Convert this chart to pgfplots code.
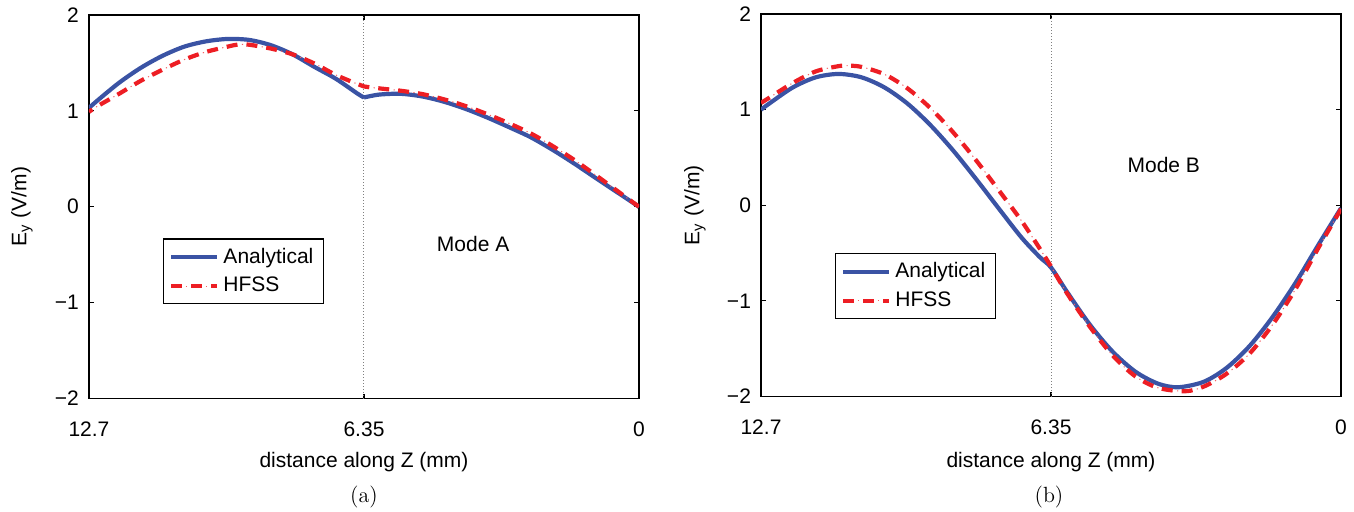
\documentclass[border=0pt]{standalone}
\usepackage{fontspec}
\usepackage{pgfplots}
\pgfplotsset{compat=1.18}
\newfontfamily\hv{Liberation Sans}
\definecolor{anblue}{RGB}{58,83,164}
\definecolor{hfred}{RGB}{237,30,36}

\pgfplotstableread{
z v
0 0
0.5 0.15
1.0 0.30
1.5 0.452
2.0 0.595
2.5 0.725
3.0 0.83
3.5 0.93
4.0 1.02
4.5 1.095
5.0 1.15
5.5 1.178
6.0 1.17
6.35 1.14
}\anAr

\pgfplotstableread{
z v
6.35 1.14
6.5 1.18
7.0 1.335
7.5 1.46
8.0 1.59
8.5 1.685
9.0 1.74
9.5 1.75
10.0 1.725
10.5 1.67
11.0 1.575
11.5 1.45
12.0 1.295
12.5 1.11
12.7 1.03
}\anAl

\pgfplotstableread{
z v
0 0
0.5 0.165
1.0 0.33
1.5 0.49
2.0 0.635
2.5 0.765
3.0 0.87
3.5 0.965
4.0 1.05
4.5 1.12
5.0 1.175
5.5 1.21
6.0 1.235
6.35 1.255
6.5 1.28
7.0 1.375
7.5 1.495
8.0 1.59
8.5 1.65
9.0 1.69
9.25 1.693
9.5 1.67
10.0 1.615
10.5 1.535
11.0 1.43
11.5 1.315
12.0 1.18
12.5 1.05
12.7 0.99
}\hfA

\pgfplotstableread{
z v
0 -0.03
0.5 -0.418
1.0 -0.815
1.5 -1.17
2.0 -1.471
2.5 -1.699
3.0 -1.845
3.56 -1.903
4.0 -1.867
4.5 -1.741
5.0 -1.531
5.5 -1.248
6.0 -0.905
6.35 -0.65
6.6 -0.54
7.0 -0.335
7.5 -0.03
8.0 0.28
8.5 0.577
9.0 0.843
9.5 1.066
10.0 1.233
10.5 1.338
11.0 1.373
11.5 1.338
12.0 1.233
12.5 1.07
12.7 1.00
}\anB

\pgfplotstableread{
z v
0 -0.04
0.5 -0.45
1.0 -0.88
1.5 -1.25
2.0 -1.55
2.5 -1.76
3.0 -1.895
3.41 -1.945
4.0 -1.91
4.5 -1.79
5.0 -1.57
5.5 -1.27
6.0 -0.92
6.35 -0.64
6.6 -0.45
7.0 -0.16
7.5 0.161
8.0 0.476
8.5 0.767
9.0 1.02
9.5 1.225
10.0 1.37
10.5 1.447
10.8 1.46
11.0 1.455
11.5 1.40
12.0 1.28
12.5 1.13
12.7 1.07
}\hfB

\pgfplotsset{
 mystyle/.style={
  scale only axis,
  anchor=south west,
  x dir=reverse,
  xmin=0, xmax=12.7, ymin=-2, ymax=2,
  xtick={0,6.35,12.7}, xticklabels={0,6.35,12.7},
  ytick={-2,-1,0,1,2}, yticklabels={−2,−1,0,1,2},
  tick align=inside,
  major tick length=2.5pt,
  axis line style={line width=0.7pt},
  every tick/.style={black, line width=0.6pt},
  font=\hv\fontsize{10.5}{12.6}\selectfont,
  xticklabel style={anchor=center, yshift=-15.25pt},
  yticklabel style={anchor=east, xshift=-1.5pt},
  xlabel={distance along Z (mm)},
  ylabel={E\textsubscript{y} (V/m)},
  legend cell align=left,
  legend image code/.code={\draw[##1] (0pt,0pt) -- (23pt,0pt);},
  legend style={draw=black, line width=0.6pt, anchor=north west,
    font=\hv\fontsize{10.5}{12.6}\selectfont, inner xsep=3pt, inner ysep=2.5pt,
    row sep=1.5pt},
 },
 anline/.style={anblue, line width=2.1pt, smooth},
 hfline/.style={hfred, line width=2.1pt, smooth, dash pattern=on 5.5pt off 4.5pt,
   postaction={draw, hfred!70, line width=0.5pt, solid, dash pattern=on 0pt off 7.2pt on 0.6pt off 2.2pt}},
 vline/.style={gray, densely dotted, line width=0.5pt, forget plot},
}

\begin{document}
\begin{tikzpicture}
\useasboundingbox (0,0) rectangle (677pt,255.5pt);

\begin{axis}[mystyle, at={(44.5pt,56.25pt)}, width=275pt, height=191.75pt,
  xlabel style={at={(axis description cs:0.5,-0.1656)}, anchor=center},
  ylabel style={at={(axis description cs:-0.1218,0.5)}, anchor=center},
  legend style={at={(axis description cs:0.134,0.4176)}}]
\addplot[vline] coordinates {(6.35,-2) (6.35,2)};
\addplot[anline] table[x=z,y=v] {\anAr};
\addlegendentry{Analytical}
\addplot[anline, forget plot] table[x=z,y=v] {\anAl};
\addplot[hfline] table[x=z,y=v] {\hfA};
\addlegendentry{HFSS}
\node[font=\hv\fontsize{10.5}{12.6}\selectfont] at (axis cs:3.83,-0.385) {Mode A};
\end{axis}

\begin{axis}[mystyle, at={(380.5pt,57.25pt)}, width=290pt, height=191.25pt,
  xlabel style={at={(axis description cs:0.5,-0.171)}, anchor=center},
  ylabel style={at={(axis description cs:-0.1138,0.5)}, anchor=center},
  legend style={at={(axis description cs:0.127,0.375)}}]
\addplot[vline] coordinates {(6.35,-2) (6.35,2)};
\addplot[anline] table[x=z,y=v] {\anB};
\addlegendentry{Analytical}
\addplot[hfline] table[x=z,y=v] {\hfB};
\addlegendentry{HFSS}
\node[font=\hv\fontsize{10.5}{12.6}\selectfont] at (axis cs:3.88,0.426) {Mode B};
\end{axis}

\node[font=\fontsize{11}{13}\selectfont] at (182pt,7pt) {(a)};
\node[font=\fontsize{11}{13}\selectfont] at (524.5pt,7pt) {(b)};
\end{tikzpicture}
\end{document}
